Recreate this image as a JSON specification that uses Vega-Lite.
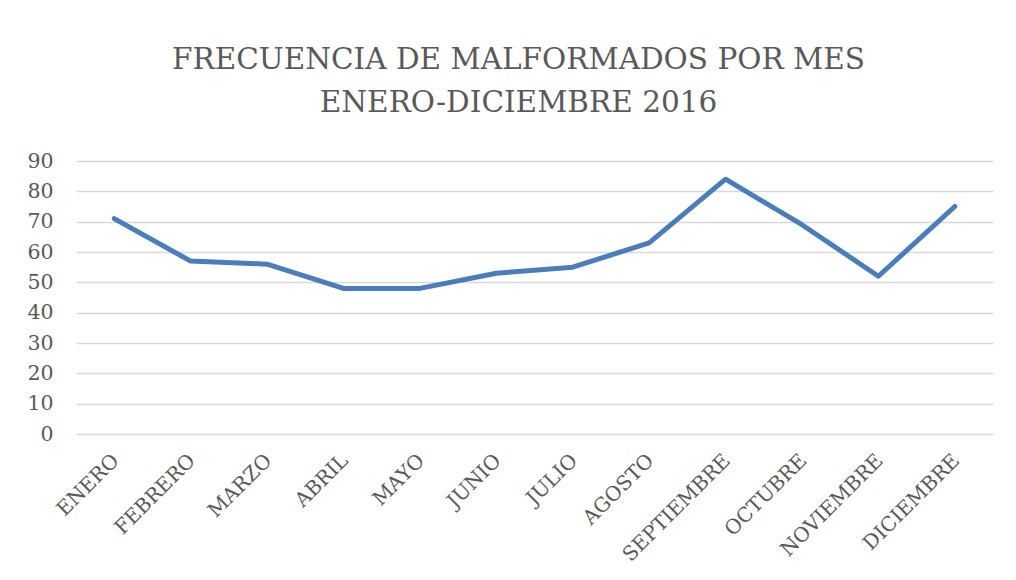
{
  "$schema": "https://vega.github.io/schema/vega-lite/v6.json",
  "autosize": "none",
  "width": 917,
  "height": 273,
  "padding": {"left": 76, "top": 161, "right": 23, "bottom": 146},
  "background": "white",
  "title": {
    "text": ["FRECUENCIA DE MALFORMADOS POR MES", "ENERO-DICIEMBRE 2016"],
    "font": "DejaVu Serif",
    "fontSize": 29.5,
    "fontWeight": "normal",
    "color": "#595959",
    "anchor": "middle",
    "dx": -16,
    "offset": 33,
    "lineHeight": 43
  },
  "data": {
    "values": [
      {"mes": "ENERO", "valor": 71},
      {"mes": "FEBRERO", "valor": 57},
      {"mes": "MARZO", "valor": 56},
      {"mes": "ABRIL", "valor": 48},
      {"mes": "MAYO", "valor": 48},
      {"mes": "JUNIO", "valor": 53},
      {"mes": "JULIO", "valor": 55},
      {"mes": "AGOSTO", "valor": 63},
      {"mes": "SEPTIEMBRE", "valor": 84},
      {"mes": "OCTUBRE", "valor": 69},
      {"mes": "NOVIEMBRE", "valor": 52},
      {"mes": "DICIEMBRE", "valor": 75}
    ]
  },
  "mark": {"type": "line", "color": "#4A7EBB", "strokeWidth": 5, "strokeCap": "round", "strokeJoin": "round"},
  "encoding": {
    "x": {
      "field": "mes",
      "type": "nominal",
      "sort": null,
      "scale": {"paddingInner": 0, "paddingOuter": 0.5},
      "axis": {
        "title": null,
        "labelAngle": -45,
        "labelFont": "DejaVu Serif",
        "labelFontSize": 20,
        "labelColor": "#595959",
        "labelPadding": 16,
        "labelOffset": -6,
        "ticks": false,
        "domain": false,
        "grid": false
      }
    },
    "y": {
      "field": "valor",
      "type": "quantitative",
      "scale": {"domain": [0, 90], "nice": false},
      "axis": {
        "title": null,
        "values": [0, 10, 20, 30, 40, 50, 60, 70, 80, 90],
        "labelFont": "DejaVu Serif",
        "labelFontSize": 20.5,
        "labelColor": "#595959",
        "labelPadding": 23,
        "ticks": false,
        "domain": false,
        "grid": true,
        "gridColor": "#D9D9D9",
        "gridWidth": 1.5
      }
    }
  },
  "config": {"view": {"stroke": null}}
}
